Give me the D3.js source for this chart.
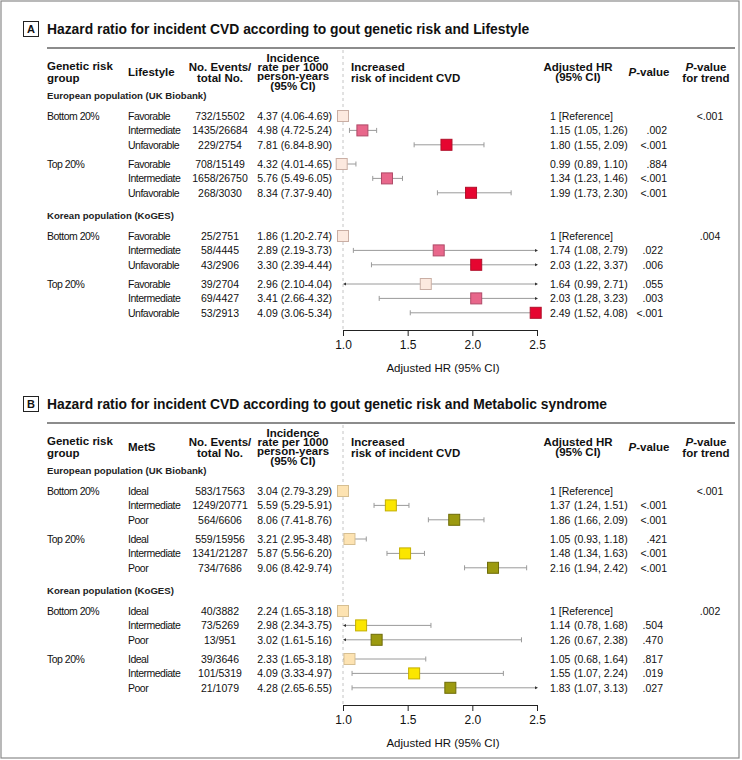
<!DOCTYPE html>
<html>
<head>
<meta charset="utf-8">
<script src="https://cdn.jsdelivr.net/npm/d3@7"></script>
<style>
  body { margin: 0; background: #fff; }
  svg { font-family: "Liberation Sans", Arial, Helvetica, sans-serif; }
  .hdr { font-weight: bold; font-size: 11.5px; fill: #111; }
  .body { font-size: 10.5px; fill: #111; }
  .lbl { letter-spacing: -0.5px; }
</style>
</head>
<body>
<div id="chart"></div>
<script>
// ---- data ----
const populations = ['European population (UK Biobank)', 'Korean population (KoGES)'];
const riskGroups = ['Bottom 20%', 'Top 20%'];

// Panel A: lifestyle
const lifeCats = ['Favorable', 'Intermediate', 'Unfavorable'];
const lifeEvents = ['732/15502', '1435/26684', '229/2754', '708/15149', '1658/26750', '268/3030',
  '25/2751', '58/4445', '43/2906', '39/2704', '69/4427', '53/2913'];
const lifeIncidence = ['4.37 (4.06-4.69)', '4.98 (4.72-5.24)', '7.81 (6.84-8.90)', '4.32 (4.01-4.65)', '5.76 (5.49-6.05)', '8.34 (7.37-9.40)',
  '1.86 (1.20-2.74)', '2.89 (2.19-3.73)', '3.30 (2.39-4.44)', '2.96 (2.10-4.04)', '3.41 (2.66-4.32)', '4.09 (3.06-5.34)'];
const lifeHR = [1, 1.15, 1.80, 0.99, 1.34, 1.99, 1, 1.74, 2.03, 1.64, 2.03, 2.49];
const lifeLo = [null, 1.05, 1.55, 0.89, 1.23, 1.73, null, 1.08, 1.22, 0.99, 1.28, 1.52];
const lifeHi = [null, 1.26, 2.09, 1.10, 1.46, 2.30, null, 2.79, 3.37, 2.71, 3.23, 4.08];
const lifeP = ['', '.002', '<.001', '.884', '<.001', '<.001', '', '.022', '.006', '.055', '.003', '<.001'];
const lifeTrend = ['<.001', '.004'];

// Panel B: metabolic syndrome
const metsCats = ['Ideal', 'Intermediate', 'Poor'];
const metsEvents = ['583/17563', '1249/20771', '564/6606', '559/15956', '1341/21287', '734/7686',
  '40/3882', '73/5269', '13/951', '39/3646', '101/5319', '21/1079'];
const metsIncidence = ['3.04 (2.79-3.29)', '5.59 (5.29-5.91)', '8.06 (7.41-8.76)', '3.21 (2.95-3.48)', '5.87 (5.56-6.20)', '9.06 (8.42-9.74)',
  '2.24 (1.65-3.18)', '2.98 (2.34-3.75)', '3.02 (1.61-5.16)', '2.33 (1.65-3.18)', '4.09 (3.33-4.97)', '4.28 (2.65-6.55)'];
const metsHR = [1, 1.37, 1.86, 1.05, 1.48, 2.16, 1, 1.14, 1.26, 1.05, 1.55, 1.83];
const metsLo = [null, 1.24, 1.66, 0.93, 1.34, 1.94, null, 0.78, 0.67, 0.68, 1.07, 1.07];
const metsHi = [null, 1.51, 2.09, 1.18, 1.63, 2.42, null, 1.68, 2.38, 1.64, 2.24, 3.13];
const metsP = ['', '<.001', '<.001', '.421', '<.001', '<.001', '', '.504', '.470', '.817', '.019', '.027'];
const metsTrend = ['<.001', '.002'];

const axisTicks = [1.0, 1.5, 2.0, 2.5];

// ---- drawing ----
const W = 742, H = 760;
const svg = d3.select('#chart').append('svg').attr('width', W).attr('height', H);

svg.append('rect')
  .attr('x', 1).attr('y', 1).attr('width', 738).attr('height', 757)
  .attr('fill', 'none').attr('stroke', '#8a8a8a').attr('stroke-width', 1.2);

const x = d3.scaleLinear().domain([1.0, 2.5]).range([343, 537]);

// y of each of the 12 rows inside a panel
function rowY(i) {
  const pop = Math.floor(i / 6), grp = Math.floor((i % 6) / 3), k = i % 3;
  const start = pop === 0 ? 116 : 236;
  return start + grp * 48 + k * 14.4;
}

function drawPanel(off, p) {
  const g = svg.append('g').attr('transform', `translate(0,${off})`);

  // letter box and title
  g.append('rect').attr('x', 23.5).attr('y', 21.5).attr('width', 15).attr('height', 15)
    .attr('fill', '#fff').attr('stroke', '#222').attr('stroke-width', 1);
  g.append('text').attr('x', 31).attr('y', 29).attr('dy', '0.36em')
    .attr('text-anchor', 'middle').attr('font-weight', 'bold').attr('font-size', 11)
    .attr('fill', '#111').text(p.letter);
  g.append('text').attr('x', 47).attr('y', 29).attr('dy', '0.36em')
    .attr('font-weight', 'bold').attr('font-size', 13.85).attr('fill', '#111').text(p.title);
  g.append('line').attr('x1', 47).attr('x2', 735).attr('y1', 48).attr('y2', 48)
    .attr('stroke', '#666').attr('stroke-width', 1.3);

  // column headers
  const hdr = (tx, ty, s, anchor) => g.append('text').attr('class', 'hdr')
    .attr('x', tx).attr('y', ty).attr('dy', '0.36em').attr('text-anchor', anchor || 'start').text(s);
  hdr(47, 66, 'Genetic risk');
  hdr(47, 78, 'group');
  hdr(128, 72, p.catHeader);
  hdr(220, 66.5, 'No. Events/', 'middle');
  hdr(220, 77.5, 'total No.', 'middle');
  ['Incidence', 'rate per 1000', 'person-years', '(95% CI)'].forEach((s, i) =>
    hdr(293, 57.5 + i * 9.3, s, 'middle').attr('font-size', 10.4));
  hdr(351, 66.5, 'Increased');
  hdr(351, 77.5, 'risk of incident CVD');
  hdr(578, 66.5, 'Adjusted HR', 'middle');
  hdr(578, 77, '(95% CI)', 'middle');
  const pv = hdr(649, 72, '', 'middle');
  pv.append('tspan').attr('font-style', 'italic').text('P');
  pv.append('tspan').text('-value');
  const pt = hdr(706, 66.5, '', 'middle');
  pt.append('tspan').attr('font-style', 'italic').text('P');
  pt.append('tspan').text('-value');
  hdr(706, 77.5, 'for trend', 'middle');

  // reference dashed line
  g.append('line').attr('x1', x(1)).attr('x2', x(1)).attr('y1', 50).attr('y2', 330)
    .attr('stroke', '#c4c4c4').attr('stroke-dasharray', '3,3');

  // population labels
  populations.forEach((s, i) => {
    g.append('text').attr('x', 47).attr('y', i === 0 ? 96 : 216).attr('dy', '0.36em')
      .attr('font-weight', 'bold').attr('font-size', 9.6).attr('fill', '#222').text(s);
  });

  const rows = d3.range(12);

  // text columns
  const txt = (tx, ty, s, anchor) => g.append('text').attr('class', 'body')
    .attr('x', tx).attr('y', ty).attr('dy', '0.36em').attr('text-anchor', anchor || 'start').text(s);

  rows.forEach(i => {
    const y = rowY(i);
    if (i % 3 === 0) txt(47, y, riskGroups[Math.floor(i / 3) % 2]).classed('lbl', true);
    txt(128, y, p.cats[i % 3]).classed('lbl', true);
    txt(220, y, p.events[i], 'middle');
    txt(332, y, p.incidence[i], 'end');
    if (p.lo[i] === null) {
      txt(550, y, '1 [Reference]');
    } else {
      txt(550, y, p.hr[i].toFixed(2));
      txt(574, y, `(${p.lo[i].toFixed(2)}, ${p.hi[i].toFixed(2)})`);
    }
    if (p.p[i]) txt(i < 6 ? 667 : 663, y, p.p[i], 'end');
    if (i % 6 === 0) txt(710, y, p.trend[i / 6], 'middle');
  });

  // confidence intervals
  const [dMin, dMax] = x.domain();
  rows.filter(i => p.lo[i] !== null).forEach(i => {
    const y = rowY(i);
    const lo = Math.max(p.lo[i], dMin), hi = Math.min(p.hi[i], dMax);
    const x0 = p.lo[i] < dMin ? x(dMin) + 2 : x(lo);
    const x1 = x(hi);
    g.append('line').attr('x1', x0).attr('x2', x1).attr('y1', y).attr('y2', y)
      .attr('stroke', '#9a9a9a').attr('stroke-width', 1);
    if (p.lo[i] >= dMin) {
      g.append('line').attr('x1', x0).attr('x2', x0).attr('y1', y - 2.5).attr('y2', y + 2.5)
        .attr('stroke', '#9a9a9a');
    } else {
      g.append('path').attr('d', `M${x0 - 2},${y}L${x0 + 1},${y - 1.5}L${x0 + 1},${y + 1.5}Z`)
        .attr('fill', '#333');
    }
    if (p.hi[i] <= dMax) {
      g.append('line').attr('x1', x1).attr('x2', x1).attr('y1', y - 2.5).attr('y2', y + 2.5)
        .attr('stroke', '#9a9a9a');
    } else {
      g.append('path').attr('d', `M${x1 + 1},${y}L${x1 - 2},${y - 1.5}L${x1 - 2},${y + 1.5}Z`)
        .attr('fill', '#333');
    }
  });

  // squares
  const s = 11;
  g.selectAll('rect.pt').data(rows).enter().append('rect').attr('class', 'pt')
    .attr('x', i => x(p.hr[i]) - s / 2)
    .attr('y', i => rowY(i) - s / 2)
    .attr('width', s).attr('height', s)
    .attr('fill', i => p.fills[i % 3])
    .attr('stroke', i => p.strokes[i % 3])
    .attr('stroke-width', 1);

  // axis
  const ax = g.append('g').attr('transform', 'translate(0,330)')
    .call(d3.axisBottom(x).tickValues(axisTicks).tickFormat(d3.format('.1f')).tickSize(6).tickSizeOuter(0));
  ax.select('.domain').attr('stroke', '#222');
  ax.selectAll('.tick line').attr('stroke', '#222');
  ax.selectAll('.tick text').attr('font-size', 12).attr('font-family', null).attr('fill', '#111').attr('dy', '0.85em');
  g.append('text').attr('x', 443).attr('y', 368).attr('dy', '0.36em').attr('text-anchor', 'middle')
    .attr('font-size', 11.5).attr('fill', '#111').text('Adjusted HR (95% CI)');
}

drawPanel(0, {
  letter: 'A',
  title: 'Hazard ratio for incident CVD according to gout genetic risk and Lifestyle',
  catHeader: 'Lifestyle',
  cats: lifeCats, events: lifeEvents, incidence: lifeIncidence,
  hr: lifeHR, lo: lifeLo, hi: lifeHi, p: lifeP, trend: lifeTrend,
  fills: ['#fce9df', '#e8678b', '#e60530'],
  strokes: ['#c9aea4', '#b04a68', '#b0102a']
});

drawPanel(375, {
  letter: 'B',
  title: 'Hazard ratio for incident CVD according to gout genetic risk and Metabolic syndrome',
  catHeader: 'MetS',
  cats: metsCats, events: metsEvents, incidence: metsIncidence,
  hr: metsHR, lo: metsLo, hi: metsHi, p: metsP, trend: metsTrend,
  fills: ['#fde3b2', '#fbe600', '#9c9a10'],
  strokes: ['#d6bf92', '#c4ae00', '#6e6c08']
});
</script>
</body>
</html>
